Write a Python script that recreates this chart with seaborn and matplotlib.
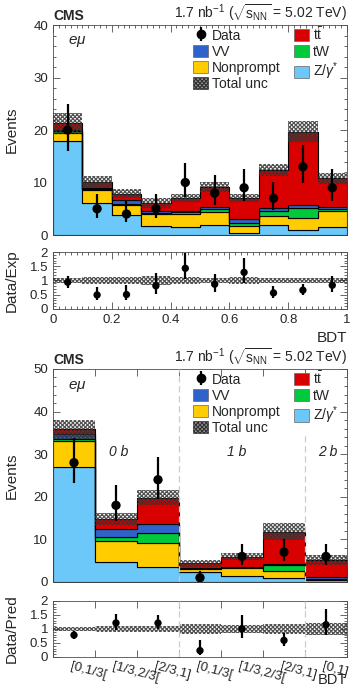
import numpy as np
import pandas as pd
import seaborn as sns
import matplotlib.pyplot as plt
from matplotlib.patches import Patch
from matplotlib.ticker import MultipleLocator

# ---- top panel: BDT distribution, 10 bins ----
bdt_edges = [0.0, 0.1, 0.2, 0.3, 0.4, 0.5, 0.6, 0.7, 0.8, 0.9, 1.0]
top_z = [18.0, 6.15, 3.8, 1.7, 1.6, 1.9, 0.45, 1.9, 0.9, 1.6]
top_nonprompt = [1.5, 2.45, 1.9, 2.3, 2.4, 2.5, 1.35, 1.7, 2.4, 3.0]
top_tw = [0.3, 0.1, 0.3, 0.25, 0.3, 0.6, 0.55, 1.0, 1.8, 0.3]
top_vv = [0.3, 0.2, 0.7, 0.35, 0.3, 0.4, 0.7, 0.5, 0.6, 0.4]
top_tt = [1.2, 1.25, 1.2, 1.55, 2.4, 3.8, 3.95, 7.3, 14.0, 5.5]
top_unc = [2.0, 1.1, 0.85, 0.95, 0.8, 0.95, 0.8, 1.2, 2.0, 1.1]
top_data = [20, 5, 4, 5, 10, 8, 9, 7, 13, 9]

# ---- bottom panel: b-jet categories x BDT ranges, 7 bins ----
cat_labels = ["[0,1/3[", "[1/3,2/3[", "[2/3,1]", "[0,1/3[", "[1/3,2/3[", "[2/3,1]", "[0,1]"]
bot_z = [27.0, 4.8, 3.6, 2.4, 1.4, 0.85, 0.5]
bot_nonprompt = [6.1, 4.9, 5.6, 0.7, 1.8, 1.65, 0.1]
bot_tw = [0.5, 0.9, 2.2, 0.1, 0.3, 1.6, 0.2]
bot_vv = [1.1, 1.8, 2.2, 0.1, 0.1, 0.2, 0.3]
bot_tt = [1.1, 2.4, 6.2, 1.1, 2.35, 7.5, 4.1]
bot_unc = [2.3, 1.35, 1.8, 0.85, 0.8, 2.0, 1.2]
bot_data = [28, 18, 24, 1, 6, 7, 6]
cat_groups = ["0 b", "1 b", "2 b"]

procs = ["tt", "VV", "tW", "Nonprompt", "Z"]  # top of stack first
colors = {"tt": "#d90000", "VV": "#2f63c9", "tW": "#00c93c",
          "Nonprompt": "#ffcc00", "Z": "#6cc8f8"}
labels = {"tt": r"t$\bar{\rm t}$", "VV": "VV", "tW": "tW",
          "Nonprompt": "Nonprompt", "Z": r"Z/$\gamma^{*}$"}

HATCH = "xxxxxxxx"
HATCH_COL = (0.2, 0.2, 0.2, 0.85)

sns.set_style("ticks")
plt.rcParams["font.family"] = ["Liberation Sans", "DejaVu Sans"]
plt.rcParams["hatch.linewidth"] = 0.9
plt.rcParams["mathtext.fontset"] = "custom"
plt.rcParams["mathtext.rm"] = "Liberation Sans"
plt.rcParams["mathtext.it"] = "Liberation Sans:italic"

fig = plt.figure(figsize=(3.54, 6.88), dpi=100)
axes = [
    fig.add_axes([0.1497, 0.6584, 0.8305, 0.3052]),
    fig.add_axes([0.1497, 0.5509, 0.8305, 0.0828]),
    fig.add_axes([0.1497, 0.1541, 0.8305, 0.3096]),
    fig.add_axes([0.1497, 0.0451, 0.8305, 0.0814]),
]


def poisson_err(n):
    n = np.asarray(n, dtype=float)
    lo = np.sqrt(n + 0.25) - 0.5
    hi = np.sqrt(n + 0.25) + 0.5
    return lo, hi


def draw_pair(ax, rax, edge_list, comps, unc, data, ymax, rlabel):
    edges = np.asarray(edge_list, dtype=float)
    centers = 0.5 * (edges[:-1] + edges[1:])
    rows = []
    for p in procs:
        for c, w in zip(centers, comps[p]):
            rows.append({"x": c, "w": w, "proc": p})
    df = pd.DataFrame(rows)
    sns.histplot(data=df, x="x", weights="w", hue="proc", hue_order=procs,
                 bins=list(edge_list), multiple="stack", element="step", fill=True,
                 palette=colors, alpha=1, edgecolor="black", linewidth=0.8,
                 legend=False, ax=ax)
    total = np.sum([comps[p] for p in procs], axis=0)
    unc = np.asarray(unc)
    lo_b = np.append(total - unc, (total - unc)[-1])
    hi_b = np.append(total + unc, (total + unc)[-1])
    ax.fill_between(edges, lo_b, hi_b, step="post", facecolor="none",
                    edgecolor=HATCH_COL, hatch=HATCH, linewidth=0, zorder=5)
    data = np.asarray(data, dtype=float)
    elo, ehi = poisson_err(data)
    ax.errorbar(centers, data, yerr=[elo, ehi], fmt="none", ecolor="black",
                elinewidth=1.6, capsize=0, zorder=6)
    sns.scatterplot(x=centers, y=data, color="black", s=45, edgecolor="none",
                    zorder=7, ax=ax)
    # legend handle only (drawn outside the visible range)
    data_handle = ax.errorbar([-100], [-100], yerr=[[1], [1]], fmt="o",
                              color="black", markersize=6, elinewidth=1.6)
    ax.set_xlim(edges[0], edges[-1])
    ax.set_ylim(0, ymax)
    ax.set_ylabel("Events", fontsize=11)
    ax.set_xlabel("")
    ax.tick_params(labelbottom=False)

    # ratio
    r = data / total
    rlo_b = np.append(1 - unc / total, (1 - unc / total)[-1])
    rhi_b = np.append(1 + unc / total, (1 + unc / total)[-1])
    rax.fill_between(edges, rlo_b, rhi_b, step="post", facecolor="none",
                     edgecolor=HATCH_COL, hatch=HATCH, linewidth=0, zorder=3)
    rax.errorbar(centers, r, yerr=[elo / total, ehi / total], fmt="none",
                 ecolor="black", elinewidth=1.6, capsize=0, zorder=6)
    sns.scatterplot(x=centers, y=r, color="black", s=28, edgecolor="none",
                    zorder=7, ax=rax)
    rax.set_xlim(edges[0], edges[-1])
    rax.set_ylim(0, 2)
    rax.set_yticks([0, 0.5, 1, 1.5, 2])
    rax.set_yticklabels(["0", "0.5", "1", "1.5", "2"])
    rax.yaxis.set_minor_locator(MultipleLocator(0.1))
    rax.set_ylabel(rlabel, fontsize=11)
    rax.set_xlabel("BDT", fontsize=11, loc="right")

    for a in (ax, rax):
        a.tick_params(which="both", direction="in", top=True, right=True,
                      labelsize=9.5, width=0.6, color="0.3")
        a.tick_params(which="major", length=5)
        a.tick_params(which="minor", length=2.5)
        for s in a.spines.values():
            s.set_linewidth(0.6)
            s.set_color("0.3")
        a.yaxis.set_label_coords(-0.115, 0.5)

    # header texts
    ax.text(0.0, 1.01, "CMS", transform=ax.transAxes, fontsize=10,
            fontweight="bold", ha="left", va="bottom")
    ax.text(1.0, 1.01, r"1.7 nb$^{-1}$ ($\sqrt{\mathrm{s}_{\mathrm{NN}}}$ = 5.02 TeV)",
            transform=ax.transAxes, fontsize=10, ha="right", va="bottom")
    ax.text(0.05, 0.955, r"$e\mu$", transform=ax.transAxes, fontsize=11,
            ha="left", va="top")

    handles = [
        data_handle,
        Patch(facecolor=colors["VV"], edgecolor="0.4", lw=0.5),
        Patch(facecolor=colors["Nonprompt"], edgecolor="0.4", lw=0.5),
        Patch(facecolor="0.6", edgecolor="0.2", hatch=HATCH, lw=0.5),
        Patch(facecolor=colors["tt"], edgecolor="0.4", lw=0.5),
        Patch(facecolor=colors["tW"], edgecolor="0.4", lw=0.5),
        Patch(facecolor=colors["Z"], edgecolor="0.4", lw=0.5),
    ]
    names = ["Data", "VV", "Nonprompt", "Total unc",
             labels["tt"], labels["tW"], labels["Z"]]
    ax.legend(handles, names, ncol=2, loc="upper right",
              bbox_to_anchor=(1.0, 1.035), frameon=False, fontsize=10,
              handlelength=1.1, handleheight=1.0, handletextpad=0.3,
              columnspacing=0.9, labelspacing=0.15, borderaxespad=0.2)


top_comps = {"tt": top_tt, "VV": top_vv, "tW": top_tw,
             "Nonprompt": top_nonprompt, "Z": top_z}
draw_pair(axes[0], axes[1], bdt_edges, top_comps, top_unc, top_data, 40,
          "Data/Exp")
for a in axes[:2]:
    a.xaxis.set_major_locator(MultipleLocator(0.2))
    a.xaxis.set_minor_locator(MultipleLocator(0.02))
axes[0].yaxis.set_major_locator(MultipleLocator(10))
axes[0].yaxis.set_minor_locator(MultipleLocator(2))
axes[1].set_xticks([0, 0.2, 0.4, 0.6, 0.8, 1.0])
axes[1].set_xticklabels(["0", "0.2", "0.4", "0.6", "0.8", "1"])

bot_edges = list(range(len(cat_labels) + 1))
bot_comps = {"tt": bot_tt, "VV": bot_vv, "tW": bot_tw,
             "Nonprompt": bot_nonprompt, "Z": bot_z}
draw_pair(axes[2], axes[3], bot_edges, bot_comps, bot_unc, bot_data, 50,
          "Data/Pred")
axes[2].yaxis.set_major_locator(MultipleLocator(10))
axes[2].yaxis.set_minor_locator(MultipleLocator(2))
for a in axes[2:]:
    a.set_xticks(bot_edges)
    a.xaxis.set_minor_locator(MultipleLocator(1))
dash = dict(color="0.8", ls=(0, (5, 3)), lw=0.9, zorder=8)
axes[2].axvline(3, **dash)
axes[2].axvline(6, ymax=0.69, **dash)  # hidden behind the legend above
axes[3].axvline(3, **dash)
axes[3].axvline(6, **dash)
axes[3].set_xticklabels([])
for i, lab in enumerate(cat_labels):
    axes[3].text(i + 0.45, -0.06, lab, transform=axes[3].get_xaxis_transform(),
                 rotation=-15, rotation_mode="anchor", ha="left", va="top",
                 fontsize=9.5)
axes[3].set_xlabel("BDT", fontsize=10.5, loc="right")
axes[3].xaxis.set_label_coords(1.0, -0.53)
axes[3].xaxis.label.set_horizontalalignment("right")
axes[3].xaxis.label.set_verticalalignment("bottom")
for xpos, g in zip([1.57, 4.38, 6.55], cat_groups):
    axes[2].text(xpos, 30.5, g, fontsize=10, style="italic", ha="center",
                 va="center")

fig.savefig("out.png", dpi=100)
